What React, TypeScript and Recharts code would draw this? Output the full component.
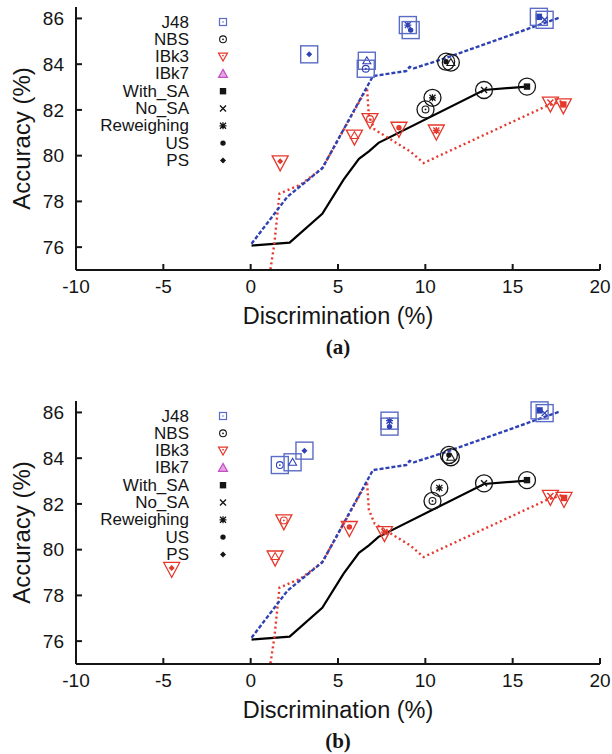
import { ComposedChart, Line, Scatter, XAxis, YAxis } from "recharts"

const xTicks = [-10, -5, 0, 5, 10, 15, 20]
const yTicks = [76, 78, 80, 82, 84, 86]

const legendLabels = ["J48", "NBS", "IBk3", "IBk7", "With_SA", "No_SA", "Reweighing", "US", "PS"]
const legendGlyphs = ["j48", "nbs", "ibk3", "ibk7", "sq", "x", "ast", "dot", "ps"]

// trade-off curves (same in both panels)
const blueLine = [
  { x: 0.05, y: 76.15 }, { x: 2.1, y: 78.2 }, { x: 4.1, y: 79.45 }, { x: 7.0, y: 83.48 },
  { x: 8.9, y: 83.7 }, { x: 9.1, y: 83.88 }, { x: 9.35, y: 83.82 }, { x: 11.1, y: 84.25 },
  { x: 17.7, y: 86.04 },
]
const blackLine = [
  { x: 0.05, y: 76.07 }, { x: 2.23, y: 76.2 }, { x: 4.1, y: 77.46 }, { x: 5.32, y: 78.95 },
  { x: 6.2, y: 79.86 }, { x: 6.77, y: 80.19 }, { x: 7.32, y: 80.56 }, { x: 13.36, y: 82.87 },
  { x: 15.82, y: 83.02 },
]
const redLine = [
  { x: 1.05, y: 74.6 }, { x: 1.36, y: 76.18 }, { x: 1.65, y: 78.34 }, { x: 2.85, y: 78.73 },
  { x: 4.1, y: 79.45 }, { x: 6.66, y: 82.97 }, { x: 6.77, y: 81.73 }, { x: 7.1, y: 81.14 },
  { x: 9.12, y: 80.19 }, { x: 9.9, y: 79.68 }, { x: 16.94, y: 82.17 }, { x: 17.83, y: 82.39 },
]

// panel (a)
const j48A = [
  { x: 3.35, y: 84.43, m: "ps" }, { x: 6.65, y: 84.15, m: "tri" }, { x: 6.59, y: 83.8, m: "nbs" },
  { x: 9.0, y: 85.71, m: "ast" }, { x: 9.16, y: 85.49, m: "dot" }, { x: 16.5, y: 86.07, m: "sq" },
  { x: 16.83, y: 85.94, m: "x" },
]
const nbsA = [
  { x: 10.01, y: 82.02, m: "nbs" }, { x: 10.41, y: 82.53, m: "ast" }, { x: 11.19, y: 84.11, m: "dot" },
  { x: 11.46, y: 84.07, m: "tri" }, { x: 13.36, y: 82.87, m: "x" }, { x: 15.82, y: 83.02, m: "sq" },
]
const ibkA = [
  { x: 1.69, y: 79.75, m: "ps" }, { x: 5.94, y: 80.88, m: "tri" }, { x: 6.83, y: 81.6, m: "nbs" },
  { x: 8.49, y: 81.22, m: "dot" }, { x: 10.63, y: 81.1, m: "ast" }, { x: 17.16, y: 82.32, m: "x" },
  { x: 17.9, y: 82.24, m: "sq" },
]

// panel (b)
const j48B = [
  { x: 1.67, y: 83.7, m: "nbs" }, { x: 2.4, y: 83.82, m: "tri" }, { x: 3.08, y: 84.33, m: "ps" },
  { x: 7.95, y: 85.64, m: "ast" }, { x: 7.95, y: 85.38, m: "dot" }, { x: 16.54, y: 86.09, m: "sq" },
  { x: 16.83, y: 85.97, m: "x" },
]
const nbsB = [
  { x: 10.41, y: 82.13, m: "nbs" }, { x: 10.8, y: 82.7, m: "ast" }, { x: 11.35, y: 84.14, m: "dot" },
  { x: 11.46, y: 84.04, m: "tri" }, { x: 13.36, y: 82.9, m: "x" }, { x: 15.82, y: 83.04, m: "sq" },
]
const ibkB = [
  { x: -4.52, y: 79.2, m: "ps" }, { x: 1.4, y: 79.7, m: "tri" }, { x: 1.9, y: 81.28, m: "nbs" },
  { x: 5.65, y: 80.99, m: "dot" }, { x: 7.66, y: 80.77, m: "ast" }, { x: 17.16, y: 82.35, m: "x" },
  { x: 17.94, y: 82.26, m: "sq" },
]

const BLUE = "#2f42b4"
const BLUE_BOX = "#5b6cc6"
const RED = "#e6372b"
const MAGENTA = "#c64fc6"
const INK = "#151515"
const FONT = '"Liberation Sans", Arial, Helvetica, sans-serif'

function Glyph({ kind, cx, cy, color }: { kind: string; cx: number; cy: number; color: string }) {
  switch (kind) {
    case "sq":
      return <rect x={cx - 3.2} y={cy - 3.2} width={6.4} height={6.4} fill={color} />
    case "x":
      return (
        <path d={`M${cx - 3},${cy - 3}L${cx + 3},${cy + 3}M${cx - 3},${cy + 3}L${cx + 3},${cy - 3}`} stroke={color} strokeWidth={1.4} />
      )
    case "ast":
      return (
        <path
          d={`M${cx - 3},${cy - 3}L${cx + 3},${cy + 3}M${cx - 3},${cy + 3}L${cx + 3},${cy - 3}M${cx - 3.5},${cy}L${cx + 3.5},${cy}M${cx},${cy - 3.5}L${cx},${cy + 3.5}`}
          stroke={color}
          strokeWidth={1.3}
        />
      )
    case "dot":
      return <circle cx={cx} cy={cy} r={2.7} fill={color} />
    case "ps":
      return <path d={`M${cx},${cy - 3}L${cx + 3},${cy}L${cx},${cy + 3}L${cx - 3},${cy}Z`} fill={color} />
    case "nbs":
      return (
        <g>
          <circle cx={cx} cy={cy} r={3.4} fill="none" stroke={color} strokeWidth={1.1} />
          <circle cx={cx} cy={cy} r={0.9} fill={color} />
        </g>
      )
    case "tri":
      return <path d={`M${cx},${cy - 4}L${cx + 4},${cy + 3}L${cx - 4},${cy + 3}Z`} fill="none" stroke={color} strokeWidth={1.1} />
    case "j48":
      return (
        <g>
          <rect x={cx - 3.5} y={cy - 3.5} width={7} height={7} fill="none" stroke={BLUE_BOX} strokeWidth={1.2} />
          <circle cx={cx} cy={cy} r={0.8} fill={BLUE_BOX} />
        </g>
      )
    case "ibk3":
      return (
        <g>
          <path d={`M${cx - 4.5},${cy - 3.5}L${cx + 4.5},${cy - 3.5}L${cx},${cy + 4.5}Z`} fill="none" stroke={RED} strokeWidth={1.2} />
          <circle cx={cx} cy={cy - 1} r={0.9} fill={RED} />
        </g>
      )
    case "ibk7":
      return <path d={`M${cx},${cy - 4.5}L${cx + 4.5},${cy + 3.5}L${cx - 4.5},${cy + 3.5}Z`} fill="#e2a6e2" stroke={MAGENTA} strokeWidth={1.2} />
    default:
      return null
  }
}

const j48Shape = (p: any) => (
  <g>
    <rect x={p.cx - 8.5} y={p.cy - 8.5} width={17} height={17} fill="none" stroke={BLUE_BOX} strokeWidth={1.4} />
    <Glyph kind={p.payload.m} cx={p.cx} cy={p.cy} color={BLUE} />
  </g>
)
const nbsShape = (p: any) => (
  <g>
    <circle cx={p.cx} cy={p.cy} r={8.5} fill="none" stroke={INK} strokeWidth={1.3} />
    <Glyph kind={p.payload.m} cx={p.cx} cy={p.cy} color={INK} />
  </g>
)
const ibkShape = (p: any) => (
  <g>
    <path d={`M${p.cx - 8},${p.cy - 5.5}L${p.cx + 8},${p.cy - 5.5}L${p.cx},${p.cy + 9.5}Z`} fill="none" stroke={RED} strokeWidth={1.3} />
    <Glyph kind={p.payload.m} cx={p.cx} cy={p.cy} color={RED} />
  </g>
)

function LegendOverlay() {
  return (
    <svg width={612} height={330} style={{ position: "absolute", left: 0, top: 0, pointerEvents: "none" }}>
      {legendLabels.map((label, i) => (
        <g key={label}>
          <text x={189} y={22 + i * 17.3} textAnchor="end" dominantBaseline="central" fontSize={17} fill={INK} fontFamily={FONT}>
            {label}
          </text>
          <Glyph kind={legendGlyphs[i]} cx={223} cy={22 + i * 17.3} color={INK} />
        </g>
      ))}
    </svg>
  )
}

function Panel({ j48, nbs, ibk, caption, top }: { j48: any[]; nbs: any[]; ibk: any[]; caption: string; top: number }) {
  return (
    <div style={{ position: "absolute", left: 0, top, width: 612, height: 360, fontFamily: FONT }}>
      <ComposedChart width={612} height={330} margin={{ top: 7, right: 12, bottom: 0, left: 0 }}>
        <XAxis
          dataKey="x"
          type="number"
          domain={[-10, 20]}
          ticks={xTicks}
          interval={0}
          allowDataOverflow
          height={60}
          tickSize={-6}
          tickMargin={16}
          stroke={INK}
          strokeWidth={2}
          tick={{ fill: INK, fontSize: 19 }}
          label={(lp: any) => {
            const vb = lp.viewBox
            return (
              <text x={vb.x + vb.width / 2} y={vb.y + 46} textAnchor="middle" dominantBaseline="central" fontSize={23.5} fill={INK}>
                Discrimination (%)
              </text>
            )
          }}
        />
        <XAxis xAxisId="top" orientation="top" dataKey="x" type="number" domain={[-10, 20]} ticks={xTicks} interval={0} allowDataOverflow height={0} tickSize={-6} tick={false} stroke={INK} strokeWidth={2} />
        <YAxis
          type="number"
          domain={[75, 86.5]}
          ticks={yTicks}
          interval={0}
          allowDataOverflow
          width={76}
          tickSize={-6}
          tickMargin={18}
          stroke={INK}
          strokeWidth={2}
          tick={{ fill: INK, fontSize: 19 }}
          label={(lp: any) => {
            const vb = lp.viewBox
            const cy = vb.y + vb.height / 2
            return (
              <text x={21} y={cy} transform={`rotate(-90, 21, ${cy})`} textAnchor="middle" dominantBaseline="central" fontSize={24} fill={INK}>
                Accuracy (%)
              </text>
            )
          }}
        />
        <YAxis yAxisId="right" orientation="right" type="number" domain={[75, 86.5]} ticks={yTicks} interval={0} allowDataOverflow width={0} tickSize={-6} tick={false} stroke={INK} strokeWidth={2} />
        <Line data={blackLine} dataKey="y" type="linear" stroke="#000" strokeWidth={2.2} dot={false} isAnimationActive={false} />
        <Line data={redLine} dataKey="y" type="linear" stroke={RED} strokeWidth={2.4} strokeDasharray="2 3" dot={false} isAnimationActive={false} />
        <Line data={blueLine} dataKey="y" type="linear" stroke={BLUE} strokeWidth={2.4} strokeDasharray="4 2" dot={false} isAnimationActive={false} />
        <Scatter data={j48} dataKey="y" shape={j48Shape} isAnimationActive={false} />
        <Scatter data={nbs} dataKey="y" shape={nbsShape} isAnimationActive={false} />
        <Scatter data={ibk} dataKey="y" shape={ibkShape} isAnimationActive={false} />
      </ComposedChart>
      <LegendOverlay />
      <div
        style={{
          position: "absolute",
          left: 238,
          width: 200,
          top: 336,
          textAlign: "center",
          fontFamily: '"Liberation Serif", "Times New Roman", serif',
          fontWeight: "bold",
          fontSize: 21,
          lineHeight: "22px",
          color: INK,
        }}
      >
        {caption}
      </div>
    </div>
  )
}

export default function App() {
  return (
    <div style={{ position: "absolute", left: 0, top: 0, width: 612, height: 754, background: "#fff", overflow: "hidden" }}>
      <Panel j48={j48A} nbs={nbsA} ibk={ibkA} caption="(a)" top={0} />
      <Panel j48={j48B} nbs={nbsB} ibk={ibkB} caption="(b)" top={394} />
    </div>
  )
}
